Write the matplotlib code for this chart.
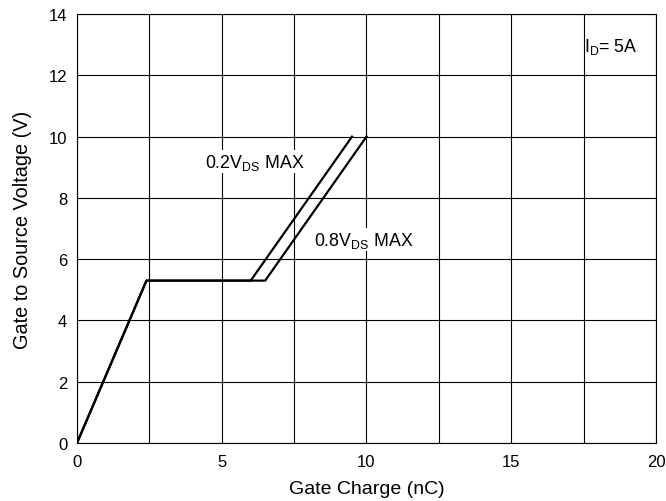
import matplotlib
matplotlib.use("Agg")
import matplotlib.pyplot as plt
import numpy as np

plt.rcParams['font.family'] = ['Liberation Sans', 'DejaVu Sans']
plt.rcParams['mathtext.fontset'] = 'custom'
plt.rcParams['mathtext.rm'] = 'Liberation Sans'
plt.rcParams['mathtext.it'] = 'Liberation Sans'

# Data
qg_02 = [0, 2.4, 6.0, 9.5]
vgs_02 = [0, 5.3, 5.3, 10]
qg_08 = [0, 2.4, 6.5, 10.0]
vgs_08 = [0, 5.3, 5.3, 10]
xticks = [0, 5, 10, 15, 20]
yticks = [0, 2, 4, 6, 8, 10, 12, 14]

fig = plt.figure(figsize=(6.66, 5.02), dpi=100)
ax = fig.add_axes([0.1156, 0.1155, 0.8694, 0.8545])
ax.set_xlim(0, 20)
ax.set_ylim(0, 14)
ax.set_xticks(xticks)
ax.set_xticks(np.arange(0, 20.01, 2.5), minor=True)
ax.set_yticks(yticks)
ax.grid(True, which='both', axis='x', color='black', linewidth=0.8)
ax.grid(True, which='major', axis='y', color='black', linewidth=0.8)
ax.tick_params(which='both', length=0, labelsize=12)
ax.tick_params(axis='y', pad=7)
ax.tick_params(axis='x', pad=8)
for s in ax.spines.values():
    s.set_linewidth(0.8)
    s.set_color('black')

ax.plot(qg_02, vgs_02, color='black', linewidth=1.6, zorder=3)
ax.plot(qg_08, vgs_08, color='black', linewidth=1.6, zorder=3)

ax.text(4.42, 9.18, r'0.2V$_{\mathrm{DS}}$ MAX', fontsize=12.8, va='center', ha='left',
        bbox=dict(facecolor='white', edgecolor='none', pad=1), zorder=4)
ax.text(8.17, 6.63, r'0.8V$_{\mathrm{DS}}$ MAX', fontsize=12.8, va='center', ha='left',
        bbox=dict(facecolor='white', edgecolor='none', pad=1), zorder=4)
ax.text(17.5, 12.97, r'I$_{\mathrm{D}}$= 5A', fontsize=12.8, va='center', ha='left')

ax.set_xlabel('Gate Charge (nC)', fontsize=14, labelpad=8)
ax.set_ylabel('Gate to Source Voltage (V)', fontsize=14.3, labelpad=12)

fig.savefig('out.png', dpi=100)
